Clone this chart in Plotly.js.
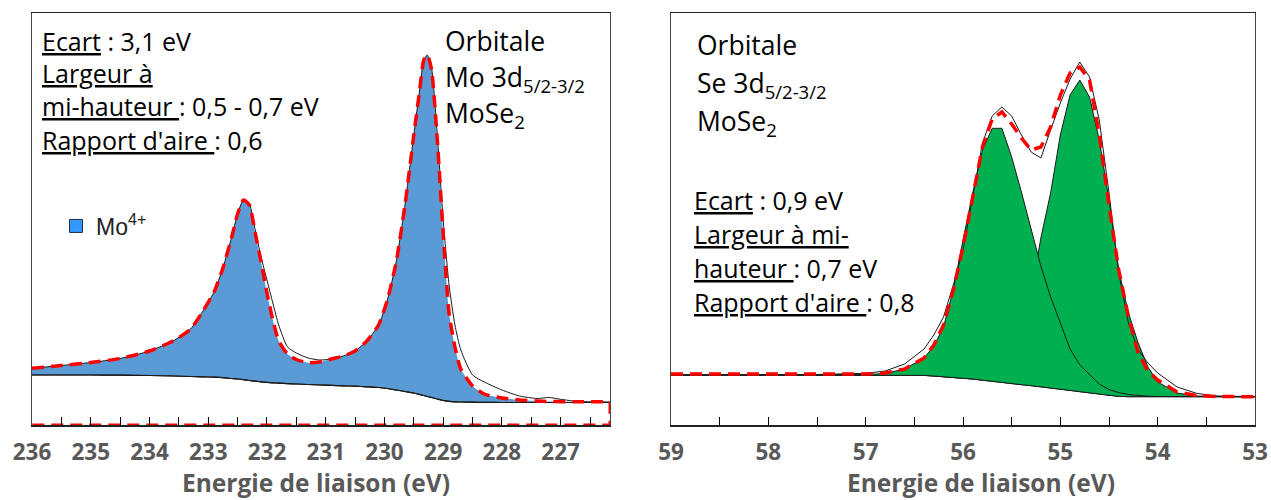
<!DOCTYPE html>
<html>
<head>
<meta charset="utf-8">
<script src="https://cdn.plot.ly/plotly-3.0.1.min.js"></script>
<style>html,body{margin:0;padding:0;background:#fff;}#chart{width:1271px;height:500px;}</style>
</head>
<body>
<div id="chart"></div>
<script>
// ---------- Mo 3d (left panel) ----------
const moBE  = [236.0, 235.5, 235.0, 234.5, 234.0, 233.6, 233.3, 233.1, 232.9, 232.75, 232.6, 232.5, 232.4, 232.3, 232.2, 232.1, 232.0, 231.9, 231.8, 231.65, 231.5, 231.3, 231.1, 230.9, 230.7, 230.5, 230.3, 230.1, 229.95, 229.8, 229.65, 229.5, 229.4, 229.33, 229.27, 229.2, 229.1, 229.0, 228.9, 228.8, 228.7, 228.5, 228.3, 228.0, 227.7, 227.4, 227.2, 227.0, 226.7, 226.16];
const moFit = [56.7, 59.5, 62.5, 66.5, 74, 84, 96, 113, 133, 157, 188, 211, 225, 220, 192, 163, 132, 105, 84, 71, 65.5, 62.3, 63, 66, 69, 74, 84, 100, 125, 163, 220, 290, 335, 365, 370, 356, 285, 192, 112, 78, 56, 39, 31, 27, 25, 24, 23.5, 23.3, 23.3, 23.3];
const moRaw = [56.7, 59.5, 62.5, 66.5, 74, 84, 96, 113, 133, 157, 188, 211, 225, 221, 195, 168, 145, 122, 100, 78, 72, 67, 65, 66, 69, 74, 84, 100, 125, 163, 220, 290, 335, 365, 370, 358, 290, 205, 140, 100, 75, 50, 43, 35, 29, 26.5, 27.5, 25.7, 23.5, 23];
const moBg  = [50, 50, 50, 49.8, 49.5, 49, 48.5, 48.2, 47.8, 47.3, 46.5, 46, 45.3, 44.5, 43.8, 43.2, 42.7, 42.2, 41.8, 41.3, 41, 40.5, 40, 39.6, 39.2, 38.8, 38.2, 37.5, 36.5, 35, 33.5, 32, 30.5, 29.5, 28.5, 27.5, 26, 24.5, 23.7, 23.2, 23, 22.8, 22.6, 22.5, 22.5, 22.5, 22.5, 22.5, 22.5, 22.5];

// ---------- Se 3d (right panel) ----------
const seBE   = [59.0, 58.5, 58.0, 57.5, 57.0, 56.8, 56.6, 56.4, 56.3, 56.2, 56.1, 56.0, 55.9, 55.8, 55.7, 55.6, 55.5, 55.4, 55.3, 55.2, 55.1, 55.0, 54.9, 54.8, 54.7, 54.6, 54.5, 54.4, 54.3, 54.2, 54.1, 54.0, 53.8, 53.6, 53.4, 53.2, 53.0];
const seBg   = [50, 50, 50, 50, 50, 50, 50, 49.6, 49, 48.4, 47.8, 47.3, 46, 44.8, 43.5, 42.3, 41.3, 40.3, 39.3, 38.3, 37, 35.8, 34.6, 33.3, 32, 30.5, 29.3, 28.6, 28.3, 28.3, 28.3, 28.3, 28.3, 28.3, 28.3, 28.3, 28.3];
const se3d32 = [50, 50, 50, 50, 50.5, 51.5, 56, 67, 79, 98, 135, 185, 232, 275, 296.7, 296.7, 268, 233, 196, 159, 128, 101, 76, 60, 50, 41, 35.5, 32.5, 30.5, 29.5, 28.8, 28.5, 28.3, 28.3, 28.3, 28.3, 28.3];
const se3d52 = [50, 50, 50, 50, 50, 50, 50, 49.6, 49, 48.4, 47.8, 47.3, 46, 45, 46, 52, 65, 90, 130, 187, 232, 290, 330, 345, 328, 285, 225, 155, 112, 82, 58, 43, 32, 29, 28.3, 28.3, 28.3];
const seFit  = [51, 51, 51, 51, 51, 52, 56, 67, 80, 100, 135, 178, 228, 278, 306, 313, 301, 287, 275, 278, 298, 330, 352, 358, 345, 290, 220, 155, 108, 72, 54, 45, 33, 29.5, 28.5, 28.3, 28.3];
const seRaw  = [50, 50, 50, 50.5, 51.7, 54, 61, 76, 90, 108, 140, 175, 228, 282, 309, 318, 309, 290, 273, 267, 295, 322, 346, 363, 348, 305, 232, 152, 102, 75, 62, 52, 38, 31.7, 29, 28.5, 28.3];

// ---------- tick labels ----------
const moTicks = [236, 235, 234, 233, 232, 231, 230, 229, 228, 227];
const seTicks = [59, 58, 57, 56, 55, 54, 53];
const xTitle = 'Energie de liaison (eV)';

const W = 1271, H = 500;
const px = v => v / W, py = v => 1 - v / H;

const RED = '#FF0000', BLUE = '#5B9BD5', GREEN = '#00B050', INK = '#1a1a1a';
const dashFit = '12px,7px';

const traces = [
  // left panel
  {x: moBE, y: moBg, xaxis: 'x', yaxis: 'y', mode: 'lines', line: {color: INK, width: 1.2, shape: 'spline', smoothing: 0.6}, showlegend: false, hoverinfo: 'skip'},
  {x: moBE, y: moFit, xaxis: 'x', yaxis: 'y', mode: 'lines', fill: 'tonexty', fillcolor: BLUE, line: {width: 0, shape: 'spline', smoothing: 0.6}, showlegend: false, hoverinfo: 'skip', name: 'Mo4+'},
  {x: moBE, y: moBg, xaxis: 'x', yaxis: 'y', mode: 'lines', line: {color: INK, width: 1.2, shape: 'spline', smoothing: 0.6}, showlegend: false, hoverinfo: 'skip'},
  {x: moBE, y: moRaw, xaxis: 'x', yaxis: 'y', mode: 'lines', line: {color: INK, width: 1, shape: 'spline', smoothing: 0.6}, showlegend: false, hoverinfo: 'skip'},
  {x: moBE, y: moFit, xaxis: 'x', yaxis: 'y', mode: 'lines', line: {color: RED, width: 3.5, dash: dashFit, shape: 'spline', smoothing: 0.6}, showlegend: false, hoverinfo: 'skip'},
  {x: [moBE[moBE.length - 1], moBE[moBE.length - 1], moBE[0]], y: [moFit[moFit.length - 1], 0, 0], xaxis: 'x', yaxis: 'y', mode: 'lines', line: {color: RED, width: 3, dash: dashFit}, showlegend: false, hoverinfo: 'skip'},
  {x: [null], y: [null], xaxis: 'x', yaxis: 'y', mode: 'markers', name: 'Mo<sup>4+</sup>', marker: {symbol: 'square', size: 13, color: '#3399FF', line: {color: '#1f2f45', width: 1}}, showlegend: true},

  // right panel
  {x: seBE, y: seBg, xaxis: 'x2', yaxis: 'y2', mode: 'lines', line: {color: INK, width: 1}, showlegend: false, hoverinfo: 'skip'},
  {x: seBE, y: se3d52, xaxis: 'x2', yaxis: 'y2', mode: 'lines', fill: 'tonexty', fillcolor: GREEN, line: {color: INK, width: 1}, showlegend: false, hoverinfo: 'skip'},
  {x: seBE, y: seBg, xaxis: 'x2', yaxis: 'y2', mode: 'lines', line: {color: INK, width: 0}, showlegend: false, hoverinfo: 'skip'},
  {x: seBE, y: se3d32, xaxis: 'x2', yaxis: 'y2', mode: 'lines', fill: 'tonexty', fillcolor: GREEN, line: {color: INK, width: 1}, showlegend: false, hoverinfo: 'skip'},
  {x: seBE, y: seBg, xaxis: 'x2', yaxis: 'y2', mode: 'lines', line: {color: INK, width: 1}, showlegend: false, hoverinfo: 'skip'},
  {x: seBE, y: seRaw, xaxis: 'x2', yaxis: 'y2', mode: 'lines', line: {color: INK, width: 1}, showlegend: false, hoverinfo: 'skip'},
  {x: seBE, y: seFit, xaxis: 'x2', yaxis: 'y2', mode: 'lines', line: {color: RED, width: 3.5, dash: dashFit}, showlegend: false, hoverinfo: 'skip'}
];

const tickFont = {family: 'Open Sans', size: 22.5, color: '#595959', weight: 'bold'};
const titleFont = {family: 'Open Sans', size: 24.5, color: '#595959', weight: 'bold'};
const TXT = {family: 'Open Sans', size: 25, color: '#000'};
const ORB = {family: 'Open Sans', size: 26.5, color: '#000'};

function xax(domain, range, ticks) {
  return {
    domain: domain, range: range, tickmode: 'array', tickvals: ticks, ticktext: ticks.map(String),
    ticks: 'inside', ticklen: 8, tickcolor: '#000', tickwidth: 1,
    minor: {dtick: 0.5, tick0: 0, ticks: 'inside', ticklen: 8, tickcolor: '#000', tickwidth: 1},
    showline: true, linecolor: '#222', linewidth: 1.5, mirror: true,
    showgrid: false, zeroline: false, tickfont: tickFont, ticklabelstandoff: 6,
    automargin: false, fixedrange: true
  };
}
function yax(anchor) {
  return {domain: [75 / H, 1 - 13 / H], range: [0, 412], anchor: anchor, showticklabels: false, ticks: '',
    showline: true, linecolor: '#444', linewidth: 1.2, mirror: true, showgrid: false, zeroline: false, fixedrange: true};
}

function note(x, y, text, font) {
  return {xref: 'paper', yref: 'paper', x: px(x), y: py(y), xanchor: 'left', yanchor: 'middle', text: text, showarrow: false, font: font || TXT, align: 'left'};
}
function axisTitle(cx) {
  return {xref: 'paper', yref: 'paper', x: px(cx), y: 0, xanchor: 'center', yanchor: 'bottom', borderpad: 0, text: '<b>' + xTitle + '</b>', showarrow: false, font: titleFont};
}

const layout = {
  width: W, height: H, margin: {l: 0, r: 0, t: 0, b: 0},
  paper_bgcolor: '#fff', plot_bgcolor: '#fff',
  xaxis: Object.assign(xax([32 / W, 610 / W], [236, 226.16], moTicks), {anchor: 'y'}),
  yaxis: yax('x'),
  xaxis2: Object.assign(xax([671 / W, 1255 / W], [59, 53], seTicks), {anchor: 'y2'}),
  yaxis2: yax('x2'),
  showlegend: true,
  legend: {x: px(56), y: py(226), xanchor: 'left', yanchor: 'middle', bgcolor: 'rgba(0,0,0,0)',
    font: {family: 'Liberation Sans', size: 23, color: '#222'}, itemclick: false, itemdoubleclick: false},
  annotations: [
    note(40, 41, '<u>Ecart</u> : 3,1 eV'),
    note(40, 73, '<u>Largeur à</u>'),
    note(40, 106, '<u>mi-hauteur </u>: 0,5 - 0,7 eV'),
    note(40, 140, '<u>Rapport d\'aire </u>: 0,6'),
    note(443, 41, 'Orbitale', ORB),
    note(443, 78, 'Mo 3d<sub>5/2-3/2</sub>', ORB),
    note(443, 115, 'MoSe<sub>2</sub>', ORB),
    note(695, 45, 'Orbitale', ORB),
    note(695, 84, 'Se 3d<sub>5/2-3/2</sub>', ORB),
    note(695, 122, 'MoSe<sub>2</sub>', ORB),
    note(692, 200, '<u>Ecart</u> : 0,9 eV'),
    note(692, 234, '<u>Largeur à mi-</u>'),
    note(692, 268, '<u>hauteur </u>: 0,7 eV'),
    note(692, 302, '<u>Rapport d\'aire </u>: 0,8'),
    axisTitle(316),
    axisTitle(981)
  ]
};

Plotly.newPlot('chart', traces, layout, {displayModeBar: false, staticPlot: true});
</script>
</body>
</html>
